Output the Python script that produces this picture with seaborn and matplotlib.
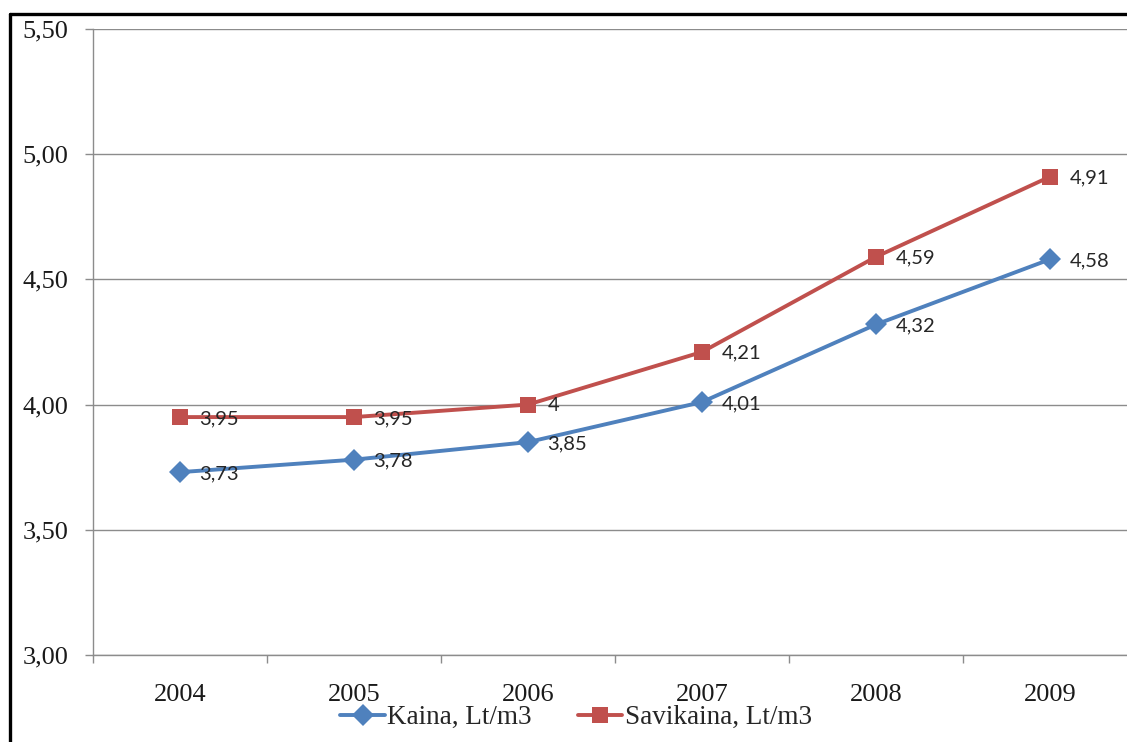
import matplotlib
matplotlib.use("Agg")
import matplotlib.pyplot as plt
from matplotlib.lines import Line2D
import seaborn as sns
import pandas as pd

years = ["2004", "2005", "2006", "2007", "2008", "2009"]
kaina = [3.73, 3.78, 3.85, 4.01, 4.32, 4.58]
savikaina = [3.95, 3.95, 4.00, 4.21, 4.59, 4.91]
series_names = ["Kaina, Lt/m3", "Savikaina, Lt/m3"]
y_ticks = [3.0, 3.5, 4.0, 4.5, 5.0, 5.5]

colors = {"Kaina, Lt/m3": "#4F81BD", "Savikaina, Lt/m3": "#C0504D"}
markers = {"Kaina, Lt/m3": "D", "Savikaina, Lt/m3": "s"}
marker_sizes = {"Kaina, Lt/m3": 11.5, "Savikaina, Lt/m3": 11.0}

df = pd.DataFrame({
    "year": years * 2,
    "value": kaina + savikaina,
    "series": [series_names[0]] * len(years) + [series_names[1]] * len(years),
})

sns.set_theme(style="white")
plt.rcParams["font.family"] = ["Liberation Serif", "DejaVu Serif"]

fig = plt.figure(figsize=(11.27, 7.42), dpi=100)
ax = fig.add_axes([0.0825, 0.1173, 0.9264, 0.8437])

sns.lineplot(data=df, x="year", y="value", hue="series", style="series",
             palette=colors, markers=markers, dashes=False, linewidth=2.8,
             markersize=11.5, markeredgewidth=0, legend=False, ax=ax,
             sort=False)
for line, name in zip(ax.lines, series_names):
    line.set_markersize(marker_sizes[name])

# value labels beside each point
label_font = {"family": ["Lato", "DejaVu Sans"], "size": 14.5, "color": "#262626"}
for vals in (kaina, savikaina):
    for i, v in enumerate(vals):
        txt = f"{v:g}".replace(".", ",")
        ax.annotate(txt, (i, v), xytext=(14, -1), textcoords="offset points",
                    ha="left", va="center", **label_font)

ax.set_xlim(-0.5, len(years) - 0.5)
ax.set_ylim(3.0, 5.5)
ax.set_yticks(y_ticks)
ax.set_yticklabels([f"{t:.2f}".replace(".", ",") for t in y_ticks])
ax.set_xticks(range(len(years)))
ax.set_xticklabels(years)
ax.set_xticks([i - 0.5 for i in range(len(years) + 1)], minor=True)
ax.set_xlabel("")
ax.set_ylabel("")

grid_c = "#8C8C8C"
ax.yaxis.grid(True, color=grid_c, linewidth=1.0)
ax.xaxis.grid(False)
ax.set_axisbelow(True)
for s in ("top", "right"):
    ax.spines[s].set_visible(False)
for s in ("left", "bottom"):
    ax.spines[s].set_color(grid_c)
    ax.spines[s].set_linewidth(1.0)

ax.tick_params(axis="y", which="major", left=True, length=5.5, width=1,
               color=grid_c, pad=12, labelsize=19, labelcolor="#1a1a1a")
ax.tick_params(axis="x", which="major", bottom=False, length=0, pad=21,
               labelsize=19, labelcolor="#1a1a1a")
ax.tick_params(axis="x", which="minor", bottom=True, length=5.5, width=1,
               color=grid_c)

handles = [
    Line2D([], [], color=colors[n], marker=markers[n], linewidth=2.8,
           markersize=marker_sizes[n], markeredgewidth=0)
    for n in series_names
]
fig.legend(handles, series_names, loc="center", bbox_to_anchor=(0.511, 0.033),
           ncol=2, frameon=False, fontsize=19.5, handlelength=1.65,
           handletextpad=0.08, columnspacing=1.7, borderaxespad=0)

# outer frame
fig.add_artist(Line2D([0.0086, 0.0086], [-0.1, 0.9811], color="black",
                      linewidth=2.4, transform=fig.transFigure))
fig.add_artist(Line2D([0.0086, 1.1], [0.9811, 0.9811], color="black",
                      linewidth=2.4, transform=fig.transFigure))

fig.savefig("out.png", dpi=100)
